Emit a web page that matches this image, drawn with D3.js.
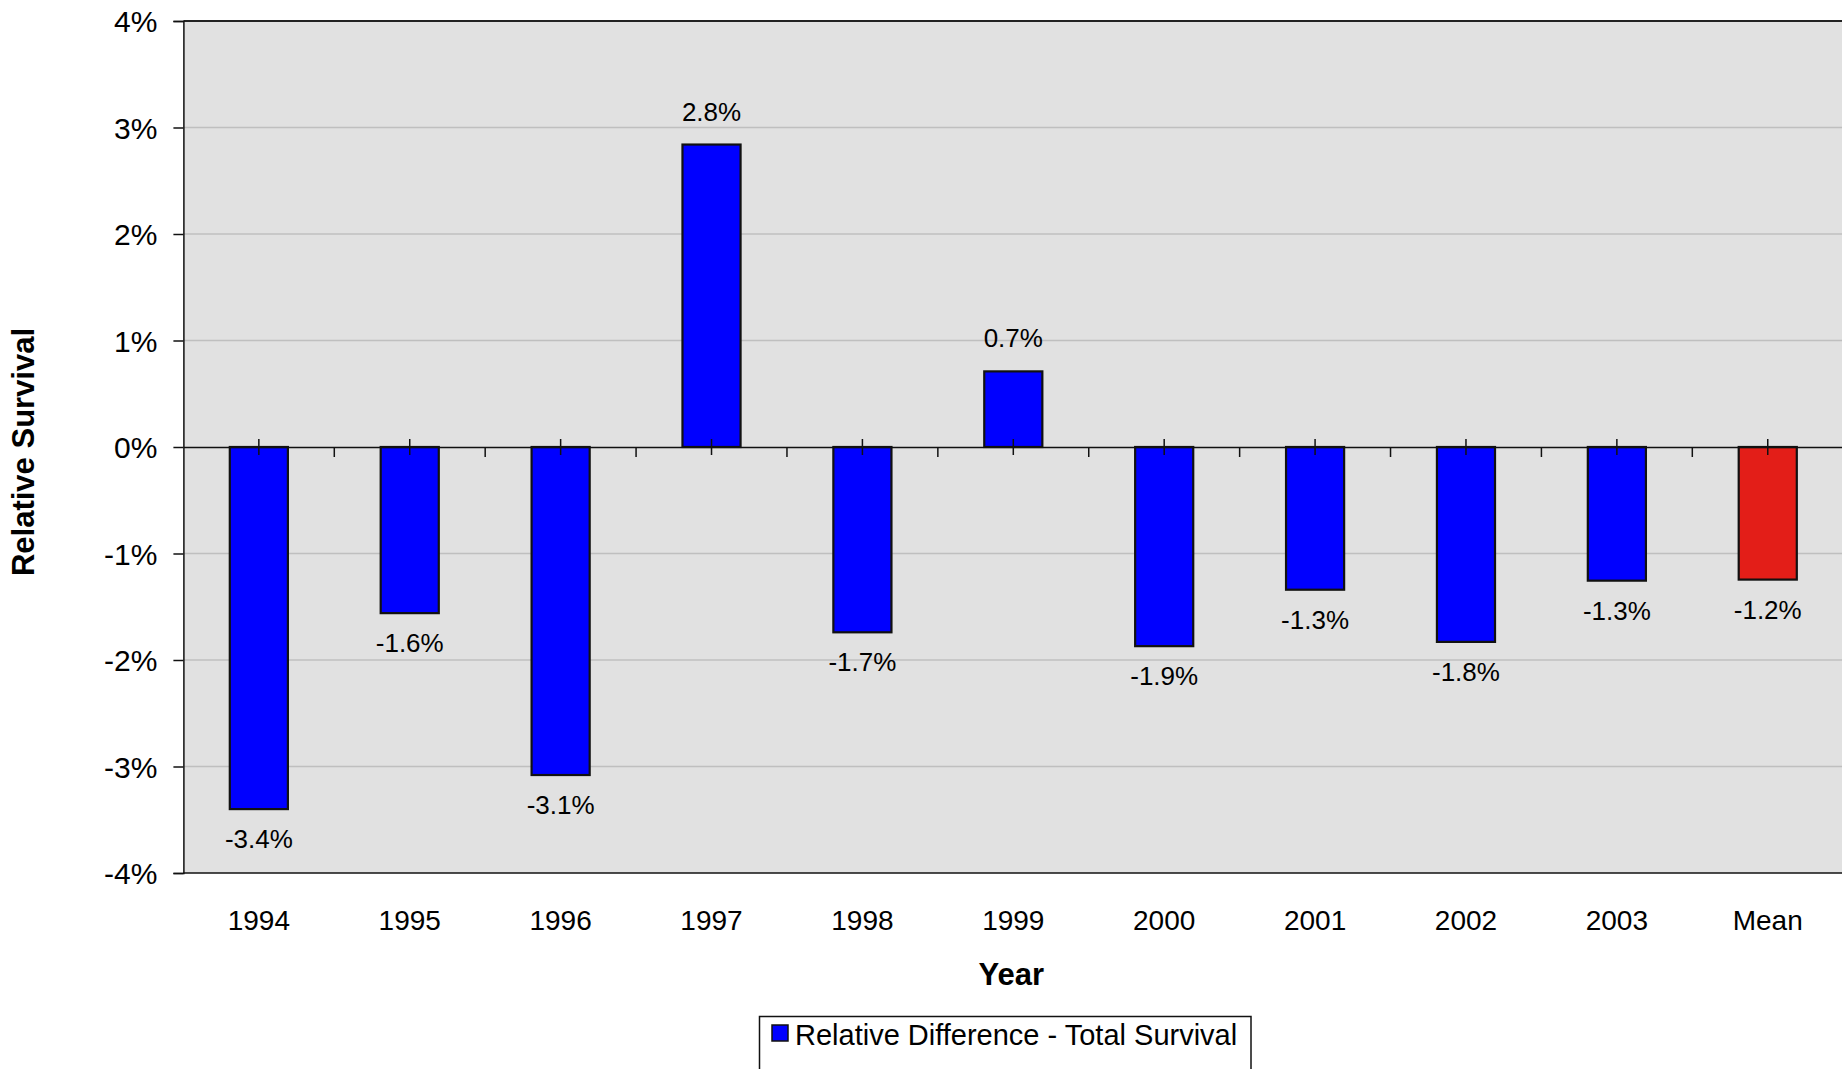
<!DOCTYPE html>
<html>
<head>
<meta charset="utf-8">
<script src="https://cdn.jsdelivr.net/npm/d3@7"></script>
<style>
  html, body { margin: 0; padding: 0; background: #ffffff; }
  svg { display: block; font-family: "Liberation Sans", Arial, sans-serif; }
</style>
</head>
<body>
<svg id="chart" width="1842" height="1069"></svg>
<script>
// Relative difference in total survival by year, plus the mean (in percent)
const categories = ["1994", "1995", "1996", "1997", "1998", "1999", "2000", "2001", "2002", "2003", "Mean"];
const values = [-3.40, -1.56, -3.08, 2.84, -1.74, 0.71, -1.87, -1.34, -1.83, -1.255, -1.245];
const yTicks = [-4, -3, -2, -1, 0, 1, 2, 3, 4];
const seriesName = "Relative Difference - Total Survival";
const summaryCategory = "Mean";

const W = 1842, H = 1069;
const plot = { left: 183.4, right: 1843.2, top: 21, bottom: 873 };

const locale = d3.formatLocale({ decimal: ".", thousands: ",", grouping: [3], currency: ["$", ""], minus: "-" });
const fmtValue = locale.format(".1f");
const fmtTick = locale.format(".0f");

const svg = d3.select("#chart");

const x = d3.scaleBand().domain(categories).range([plot.left, plot.right]).padding(0);
const y = d3.scaleLinear().domain([-4, 4]).range([plot.bottom, plot.top]);
const barFill = c => c === summaryCategory ? "#e31e18" : "#0000ff";
const barW = x.bandwidth() * 0.385;

// plot area
svg.append("rect")
  .attr("x", plot.left).attr("y", plot.top)
  .attr("width", plot.right - plot.left).attr("height", plot.bottom - plot.top)
  .attr("fill", "#e1e1e1");

// horizontal gridlines
svg.append("g").selectAll("line")
  .data(yTicks.filter(t => t !== 0 && t !== -4 && t !== 4))
  .join("line")
  .attr("x1", plot.left).attr("x2", plot.right)
  .attr("y1", d => y(d)).attr("y2", d => y(d))
  .attr("stroke", "#bfbfbf").attr("stroke-width", 1.5);

// top and bottom frame
svg.append("line").attr("x1", plot.left).attr("x2", plot.right)
  .attr("y1", plot.top).attr("y2", plot.top)
  .attr("stroke", "#222").attr("stroke-width", 2);
svg.append("line").attr("x1", plot.left).attr("x2", plot.right)
  .attr("y1", plot.bottom).attr("y2", plot.bottom)
  .attr("stroke", "#111").attr("stroke-width", 1.5);

// y axis
const yAxis = svg.append("g")
  .attr("transform", `translate(${plot.left},0)`)
  .call(d3.axisLeft(y).tickValues(yTicks).tickFormat(d => fmtTick(d) + "%").tickSize(10).tickPadding(16));
yAxis.select(".domain").attr("stroke", "#111").attr("stroke-width", 1.5);
yAxis.selectAll(".tick line").attr("stroke", "#111").attr("stroke-width", 1.5);
yAxis.selectAll(".tick text")
  .attr("font-family", "'Liberation Sans', Arial, sans-serif")
  .attr("font-size", 30).attr("fill", "#000").attr("dy", "0.36em");

// bars
svg.append("g").selectAll("rect")
  .data(categories.map((c, i) => ({ c, v: values[i] })))
  .join("rect")
  .attr("x", d => x(d.c) + x.bandwidth() / 2 - barW / 2)
  .attr("width", barW)
  .attr("y", d => y(Math.max(0, d.v)))
  .attr("height", d => Math.abs(y(d.v) - y(0)))
  .attr("fill", d => barFill(d.c))
  .attr("stroke", "#111").attr("stroke-width", 2.2);

// category axis along zero
const xAxis = svg.append("g")
  .attr("transform", `translate(0,${y(0)})`)
  .call(d3.axisBottom(x).tickSize(0).tickFormat(""));
xAxis.select(".domain").attr("stroke", "#111").attr("stroke-width", 1.5);
// boundary ticks between categories
svg.append("g").selectAll("line")
  .data(categories.slice(1))
  .join("line")
  .attr("x1", d => x(d)).attr("x2", d => x(d))
  .attr("y1", y(0)).attr("y2", y(0) + 10)
  .attr("stroke", "#111").attr("stroke-width", 1.5);
// centre marks on each category
svg.append("g").selectAll("line")
  .data(categories)
  .join("line")
  .attr("x1", d => x(d) + x.bandwidth() / 2).attr("x2", d => x(d) + x.bandwidth() / 2)
  .attr("y1", y(0) - 8).attr("y2", y(0) + 8)
  .attr("stroke", "#111").attr("stroke-width", 1.5);

// value labels
svg.append("g").selectAll("text")
  .data(categories.map((c, i) => ({ c, v: values[i] })))
  .join("text")
  .attr("x", d => x(d.c) + x.bandwidth() / 2)
  .attr("y", d => d.v >= 0 ? y(d.v) - 24 : y(d.v) + 39)
  .attr("text-anchor", "middle")
  .attr("font-size", 26).attr("fill", "#000")
  .text(d => fmtValue(d.v) + "%");

// category labels
svg.append("g").selectAll("text")
  .data(categories)
  .join("text")
  .attr("x", d => x(d) + x.bandwidth() / 2)
  .attr("y", 930)
  .attr("text-anchor", "middle")
  .attr("font-size", 28).attr("fill", "#000")
  .text(d => d);

// axis titles
svg.append("text")
  .attr("x", (plot.left + plot.right) / 2 - 2).attr("y", 985)
  .attr("text-anchor", "middle")
  .attr("font-size", 31).attr("font-weight", "bold").attr("fill", "#000")
  .text("Year");
svg.append("text")
  .attr("transform", "translate(34,452) rotate(-90)")
  .attr("text-anchor", "middle")
  .attr("font-size", 31).attr("font-weight", "bold").attr("fill", "#000")
  .text("Relative Survival");

// legend
const legend = svg.append("g");
legend.append("rect")
  .attr("x", 759.5).attr("y", 1016.5).attr("width", 491.5).attr("height", 70)
  .attr("fill", "#fff").attr("stroke", "#111").attr("stroke-width", 1.5);
legend.append("rect")
  .attr("x", 772).attr("y", 1025).attr("width", 16).attr("height", 16)
  .attr("fill", "#0000ff").attr("stroke", "#111").attr("stroke-width", 1.5);
legend.append("text")
  .attr("x", 795).attr("y", 1045)
  .attr("font-size", 29).attr("fill", "#000")
  .text(seriesName);
</script>
</body>
</html>
